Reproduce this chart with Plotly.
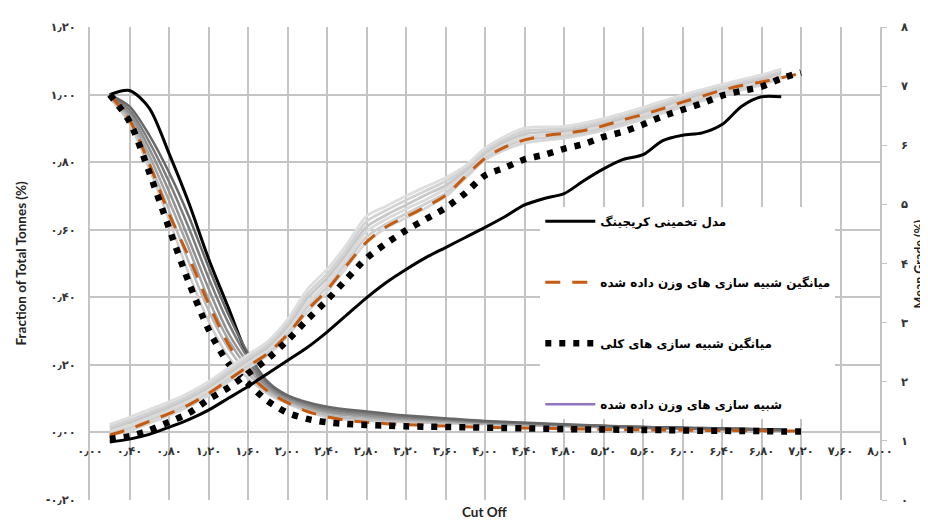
import plotly.graph_objects as go

# ---------------- data ----------------
cut_off = [0.2, 0.4, 0.6, 0.8, 1.0, 1.2, 1.4, 1.6, 1.8, 2.0, 2.2, 2.4, 2.6, 2.8, 3.0, 3.2, 3.4, 3.6,
           3.8, 4.0, 4.2, 4.4, 4.6, 4.8, 5.0, 5.2, 5.4, 5.6, 5.8, 6.0, 6.2, 6.4, 6.6, 6.8, 7.0, 7.2]

# tonnage fraction (left axis)
ton_kriging = [1.000, 1.012, 0.960, 0.826, 0.680, 0.515, 0.370, 0.224, 0.125, 0.092, 0.075, 0.064,
               0.056, 0.050, 0.045, 0.041, 0.038, 0.034, 0.031, 0.029, 0.027, 0.025, 0.023, 0.021,
               0.019, 0.018, 0.016, 0.015, 0.014, 0.013, 0.012, 0.011, 0.010, 0.009, 0.008, None]
ton_weighted_mean = [1.000, 0.925, 0.795, 0.647, 0.520, 0.382, 0.262, 0.175, 0.122, 0.088, 0.062, 0.046,
                     0.036, 0.030, 0.026, 0.023, 0.021, 0.019, 0.017, 0.015, 0.014, 0.013, 0.012, 0.011,
                     0.010, 0.009, 0.008, 0.008, 0.007, 0.007, 0.006, 0.006, 0.005, 0.005, 0.004, 0.004]
ton_all_mean = [1.000, 0.920, 0.770, 0.605, 0.445, 0.305, 0.205, 0.145, 0.093, 0.058, 0.040, 0.030,
                0.025, 0.022, 0.020, 0.018, 0.017, 0.016, 0.015, 0.014, 0.013, 0.012, 0.011, 0.010,
                0.009, 0.009, 0.008, 0.007, 0.007, 0.006, 0.005, 0.005, 0.004, 0.004, 0.003, 0.003]

# mean grade (right axis)
grade_kriging = [0.98, 1.03, 1.11, 1.23, 1.36, 1.52, 1.72, 1.92, 2.14, 2.36, 2.58, 2.84, 3.13, 3.42,
                 3.68, 3.90, 4.10, 4.27, 4.44, 4.61, 4.79, 4.99, 5.10, 5.18, 5.40, 5.60, 5.76, 5.84,
                 6.08, 6.17, 6.21, 6.35, 6.66, 6.82, 6.82, None]
grade_weighted_mean = [1.10, 1.20, 1.33, 1.46, 1.61, 1.80, 2.03, 2.26, 2.48, 2.80, 3.21, 3.55, 3.97,
                       4.36, 4.62, 4.79, 4.96, 5.15, 5.47, 5.78, 5.97, 6.09, 6.16, 6.20, 6.25, 6.33,
                       6.43, 6.52, 6.62, 6.73, 6.83, 6.93, 7.01, 7.07, 7.14, 7.22]
grade_all_mean = [1.03, 1.08, 1.18, 1.32, 1.47, 1.70, 1.90, 2.14, 2.39, 2.70, 3.05, 3.38, 3.74, 4.09,
                  4.34, 4.56, 4.75, 4.94, 5.19, 5.49, 5.62, 5.76, 5.84, 5.94, 6.02, 6.14, 6.23, 6.35,
                  6.49, 6.60, 6.71, 6.84, 6.92, 6.99, 7.13, 7.23]

# individual weighted simulations
cut_off_sim_t = [0.2, 0.4, 0.6, 0.8, 1.0, 1.2, 1.4, 1.6, 1.8, 2.0, 2.4, 2.8, 3.2, 3.6, 4.0, 4.8, 5.6, 6.4, 7.0]
sim_ton_1 = [0.990, 0.915, 0.780, 0.630, 0.470, 0.330, 0.225, 0.160, 0.115, 0.085, 0.045, 0.035, 0.030, 0.027, 0.024, 0.018, 0.012, 0.008, 0.005]
sim_ton_2 = [0.992, 0.925, 0.800, 0.658, 0.504, 0.362, 0.250, 0.175, 0.122, 0.090, 0.051, 0.040, 0.034, 0.030, 0.026, 0.019, 0.013, 0.009, 0.005]
sim_ton_3 = [0.994, 0.935, 0.820, 0.686, 0.545, 0.394, 0.275, 0.190, 0.129, 0.095, 0.058, 0.046, 0.038, 0.033, 0.028, 0.020, 0.014, 0.009, 0.006]
sim_ton_4 = [0.996, 0.945, 0.840, 0.714, 0.572, 0.426, 0.295, 0.205, 0.136, 0.100, 0.064, 0.051, 0.042, 0.036, 0.030, 0.022, 0.014, 0.010, 0.006]
sim_ton_5 = [0.998, 0.955, 0.860, 0.742, 0.606, 0.458, 0.325, 0.220, 0.143, 0.105, 0.070, 0.057, 0.046, 0.039, 0.032, 0.023, 0.015, 0.010, 0.007]
sim_ton_6 = [1.000, 0.965, 0.880, 0.770, 0.640, 0.490, 0.350, 0.235, 0.150, 0.110, 0.076, 0.062, 0.050, 0.042, 0.034, 0.024, 0.016, 0.011, 0.007]

cut_off_sim_g = [0.2, 0.4, 0.6, 0.8, 1.0, 1.2, 1.4, 1.6, 1.8, 2.0, 2.2, 2.4, 2.6, 2.8, 3.0, 3.2, 3.4, 3.6,
                 3.8, 4.0, 4.2, 4.4, 4.8, 5.2, 5.6, 6.0, 6.4, 6.8, 7.0]
sim_grade_1 = [1.10, 1.17, 1.30, 1.43, 1.58, 1.77, 2.00, 2.23, 2.45, 2.77, 3.18, 3.52, 3.94, 4.36, 4.60, 4.77, 4.94, 5.13, 5.44, 5.75, 5.92, 6.04, 6.12, 6.25, 6.44, 6.65, 6.85, 7.02, 7.14]
sim_grade_2 = [1.14, 1.22, 1.35, 1.48, 1.63, 1.82, 2.05, 2.28, 2.50, 2.83, 3.26, 3.60, 4.02, 4.45, 4.67, 4.84, 5.01, 5.19, 5.48, 5.79, 5.97, 6.09, 6.16, 6.29, 6.48, 6.69, 6.89, 7.05, 7.17]
sim_grade_3 = [1.17, 1.26, 1.39, 1.52, 1.67, 1.86, 2.09, 2.32, 2.54, 2.88, 3.33, 3.67, 4.09, 4.54, 4.75, 4.92, 5.08, 5.26, 5.52, 5.83, 6.01, 6.14, 6.20, 6.33, 6.52, 6.73, 6.92, 7.09, 7.20]
sim_grade_4 = [1.21, 1.31, 1.44, 1.57, 1.72, 1.91, 2.14, 2.37, 2.59, 2.94, 3.41, 3.75, 4.17, 4.62, 4.82, 4.99, 5.16, 5.32, 5.57, 5.87, 6.06, 6.19, 6.24, 6.37, 6.56, 6.77, 6.96, 7.12, 7.23]
sim_grade_5 = [1.24, 1.35, 1.48, 1.61, 1.76, 1.95, 2.18, 2.41, 2.63, 2.99, 3.48, 3.82, 4.24, 4.71, 4.90, 5.07, 5.23, 5.39, 5.61, 5.91, 6.10, 6.24, 6.28, 6.41, 6.60, 6.81, 6.99, 7.16, 7.26]
sim_grade_6 = [1.28, 1.40, 1.53, 1.66, 1.81, 2.00, 2.23, 2.46, 2.68, 3.05, 3.56, 3.90, 4.32, 4.80, 4.97, 5.14, 5.30, 5.45, 5.65, 5.95, 6.15, 6.29, 6.32, 6.45, 6.64, 6.85, 7.03, 7.19, 7.29]

# ticks
x_tick_vals = [0.0, 0.4, 0.8, 1.2, 1.6, 2.0, 2.4, 2.8, 3.2, 3.6, 4.0, 4.4, 4.8, 5.2, 5.6, 6.0, 6.4, 6.8, 7.2, 7.6, 8.0]
x_tick_text = ["۰٫۰۰", "۰٫۴۰", "۰٫۸۰", "۱٫۲۰", "۱٫۶۰", "۲٫۰۰", "۲٫۴۰", "۲٫۸۰", "۳٫۲۰", "۳٫۶۰", "۴٫۰۰",
               "۴٫۴۰", "۴٫۸۰", "۵٫۲۰", "۵٫۶۰", "۶٫۰۰", "۶٫۴۰", "۶٫۸۰", "۷٫۲۰", "۷٫۶۰", "۸٫۰۰"]
y_tick_vals = [-0.2, 0.0, 0.2, 0.4, 0.6, 0.8, 1.0, 1.2]
y_tick_text = ["-۰٫۲۰", "۰٫۰۰", "۰٫۲۰", "۰٫۴۰", "۰٫۶۰", "۰٫۸۰", "۱٫۰۰", "۱٫۲۰"]
y2_tick_vals = [0, 1, 2, 3, 4, 5, 6, 7, 8]
y2_tick_text = ["۰", "۱", "۲", "۳", "۴", "۵", "۶", "۷", "۸"]

name_kriging = "مدل تخمینی کریجینگ"
name_weighted_mean = "میانگین شبیه سازی های وزن داده شده"
name_all_mean = "میانگین شبیه سازی های کلی"
name_sims = "شبیه سازی های وزن داده شده"

# ---------------- styles ----------------
GRID = "#c4c4c4"
ORANGE = "#c55a11"
sim_ton_colors = ["#cdcdcd", "#bababa", "#a5a5a5", "#909090", "#7c7c7c", "#686868"]
sim_grade_colors = ["#d6d6d6", "#cfcfcf", "#dadada", "#c8c8c8", "#d2d2d2", "#dedede"]
FA = "DejaVu Sans"
SPL = dict(shape="spline", smoothing=0.8)
SQ_DASH = "6px,8px"

fig = go.Figure()

sim_ton = [sim_ton_1, sim_ton_2, sim_ton_3, sim_ton_4, sim_ton_5, sim_ton_6]
sim_grade = [sim_grade_1, sim_grade_2, sim_grade_3, sim_grade_4, sim_grade_5, sim_grade_6]

# kriging tonnage (drawn under the simulations)
fig.add_trace(go.Scatter(x=cut_off, y=ton_kriging, mode="lines", name=name_kriging,
                         legendgroup="g1", line=dict(color="black", width=3, **SPL)))
for vals, col in zip(sim_ton, sim_ton_colors):
    fig.add_trace(go.Scatter(x=cut_off_sim_t, y=vals, mode="lines",
                             line=dict(color=col, width=2.5, **SPL),
                             showlegend=False, hoverinfo="skip"))
for vals, col in zip(sim_grade, sim_grade_colors):
    fig.add_trace(go.Scatter(x=cut_off_sim_g, y=vals, yaxis="y2", mode="lines",
                             line=dict(color=col, width=2.8, **SPL),
                             showlegend=False, hoverinfo="skip"))

fig.add_trace(go.Scatter(x=cut_off, y=grade_kriging, yaxis="y2", mode="lines", name=name_kriging,
                         legendgroup="g1", showlegend=False,
                         line=dict(color="black", width=3, **SPL)))
# weighted mean
fig.add_trace(go.Scatter(x=cut_off, y=ton_weighted_mean, mode="lines", name=name_weighted_mean,
                         legendgroup="g2",
                         line=dict(color=ORANGE, width=3, dash="15px,12px", **SPL)))
fig.add_trace(go.Scatter(x=cut_off, y=grade_weighted_mean, yaxis="y2", mode="lines", name=name_weighted_mean,
                         legendgroup="g2", showlegend=False,
                         line=dict(color=ORANGE, width=3, dash="15px,12px", **SPL)))
# all mean (square dots)
fig.add_trace(go.Scatter(x=cut_off, y=ton_all_mean, mode="lines", name=name_all_mean,
                         legendgroup="g3",
                         line=dict(color="black", width=6.5, dash=SQ_DASH, **SPL)))
fig.add_trace(go.Scatter(x=cut_off, y=grade_all_mean, yaxis="y2", mode="lines", name=name_all_mean,
                         legendgroup="g3", showlegend=False,
                         line=dict(color="black", width=6.5, dash=SQ_DASH, **SPL)))
# legend entry for simulations
fig.add_trace(go.Scatter(x=[None], y=[None], mode="lines", name=name_sims, legendgroup="g4",
                         line=dict(color="#9175c4", width=2.5)))

tick_font = dict(family=FA, size=11.5, color="#333333", weight="bold")
title_font = dict(family="Lato", size=13.5, color="#222", weight="bold")

# the page adds an 8px body margin, so the figure is 8px smaller than the window
fig.update_layout(
    width=920, height=513,
    margin=dict(l=82, r=48, t=12, b=21),
    paper_bgcolor="white", plot_bgcolor="white",
    showlegend=True,
    legend=dict(x=0.57, y=0.62, xanchor="left", yanchor="top", bgcolor="white",
                borderwidth=0, traceorder="grouped", tracegroupgap=42, itemwidth=50,
                font=dict(family=FA, size=12, color="black", weight="bold")),
    xaxis=dict(range=[0, 8], tickvals=x_tick_vals, ticktext=x_tick_text, tickfont=tick_font,
               showgrid=True, gridcolor=GRID, gridwidth=1.6, zeroline=False, showline=False,
               anchor="free", position=0.2 / 1.4, ticks="", ticklabelstandoff=10, fixedrange=True),
    yaxis=dict(range=[-0.2, 1.2], tickvals=y_tick_vals, ticktext=y_tick_text, tickfont=tick_font,
               showgrid=True, gridcolor=GRID, gridwidth=1.6, zeroline=False,
               showline=True, linecolor=GRID, linewidth=1.6, ticks="", ticklabelstandoff=10),
    yaxis2=dict(range=[0, 8], overlaying="y", side="right", tickvals=y2_tick_vals, ticktext=y2_tick_text,
                tickfont=tick_font, showgrid=False, zeroline=False, showline=True, linecolor=GRID,
                linewidth=1.6, ticks="outside", ticklen=5, tickcolor=GRID, ticklabelstandoff=12),
    annotations=[
        dict(text="Cut Off", xref="paper", yref="paper", x=0.5, y=-0.026, showarrow=False,
             font=title_font, yanchor="middle"),
        dict(text="Fraction of Total Tonnes (%)", xref="paper", yref="paper", x=-0.0886, y=0.5,
             textangle=-90, showarrow=False, xanchor="center", yanchor="middle", font=title_font),
        dict(text="Mean Grade (%)", xref="paper", yref="paper", x=1.0505, y=0.5,
             textangle=-90, showarrow=False, xanchor="center", yanchor="middle",
             font=dict(family="Lato", size=12.5, color="#222", weight="bold")),
    ],
)

fig.write_html("out.html")
